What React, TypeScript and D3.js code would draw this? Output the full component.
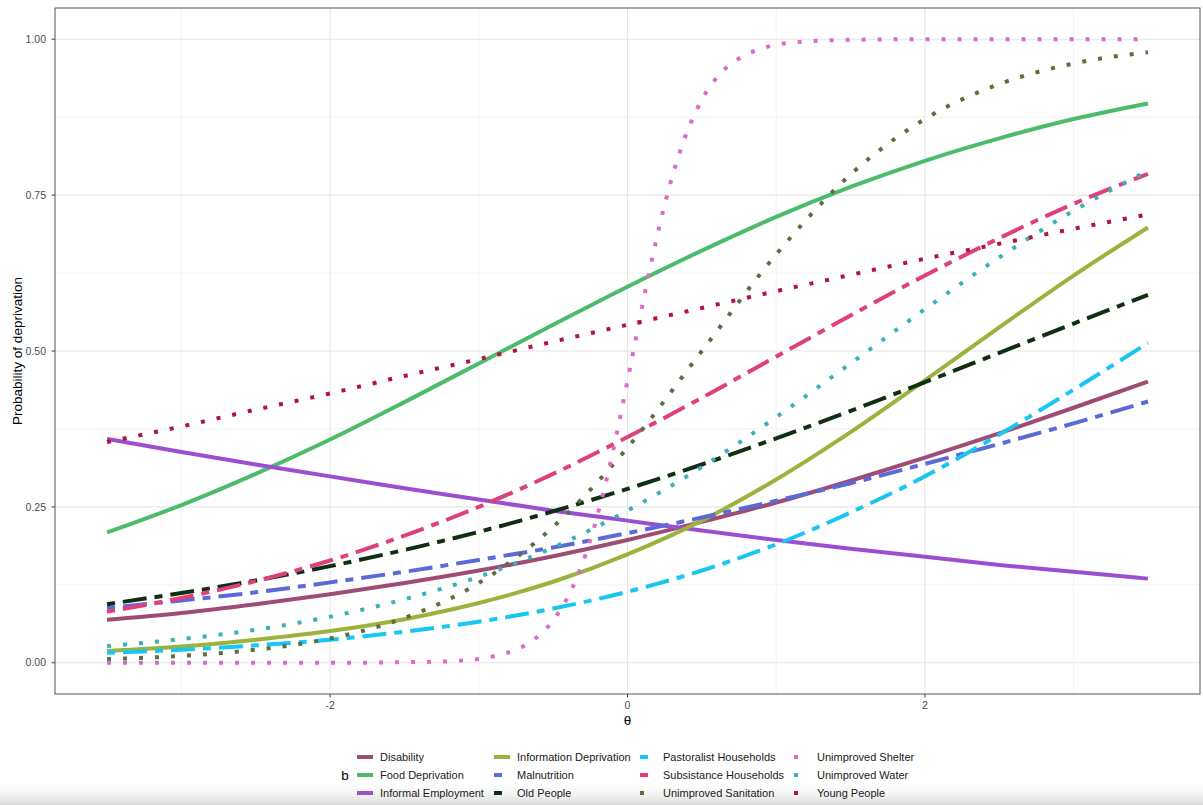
import React from 'react';
import * as d3 from 'd3';

// ---------- data ----------
const thetaCoarse = [-3.5, -3, -2.5, -2, -1.5, -1, -0.5, 0, 0.5, 1, 1.5, 2, 2.5, 3, 3.5];
const thetaShelter = [-3.5, -3, -2.5, -2, -1.5, -1.25, -1, -0.875, -0.75, -0.625, -0.5, -0.375, -0.25, -0.125, 0, 0.125, 0.25, 0.375, 0.5, 0.625, 0.75, 0.875, 1, 1.25, 1.5, 2, 2.5, 3, 3.5];

const disability = [0.069, 0.080, 0.094, 0.110, 0.128, 0.148, 0.171, 0.197, 0.226, 0.257, 0.292, 0.329, 0.368, 0.409, 0.451];
const foodDeprivation = [0.209, 0.253, 0.303, 0.358, 0.418, 0.480, 0.542, 0.603, 0.661, 0.715, 0.763, 0.805, 0.841, 0.872, 0.897];
const informalEmployment = [0.359, 0.338, 0.318, 0.299, 0.280, 0.262, 0.244, 0.228, 0.212, 0.197, 0.183, 0.170, 0.157, 0.146, 0.135];
const informationDeprivation = [0.019, 0.026, 0.037, 0.051, 0.070, 0.096, 0.130, 0.174, 0.228, 0.294, 0.370, 0.453, 0.538, 0.621, 0.698];
const malnutrition = [0.088, 0.100, 0.113, 0.129, 0.146, 0.165, 0.185, 0.208, 0.233, 0.260, 0.288, 0.319, 0.351, 0.384, 0.419];
const oldPeople = [0.094, 0.112, 0.132, 0.155, 0.181, 0.210, 0.243, 0.279, 0.318, 0.360, 0.404, 0.450, 0.497, 0.544, 0.590];
const pastoralistHouseholds = [0.016, 0.021, 0.028, 0.037, 0.050, 0.066, 0.087, 0.114, 0.148, 0.190, 0.241, 0.299, 0.366, 0.438, 0.513];
const subsistenceHouseholds = [0.082, 0.104, 0.131, 0.164, 0.204, 0.250, 0.303, 0.362, 0.425, 0.491, 0.557, 0.621, 0.681, 0.736, 0.784];
const unimprovedSanitation = [0.006, 0.011, 0.021, 0.039, 0.072, 0.128, 0.218, 0.345, 0.500, 0.655, 0.783, 0.872, 0.928, 0.961, 0.979];
const unimprovedShelter = [0, 0, 0, 0, 0.001, 0.002, 0.006, 0.012, 0.021, 0.038, 0.068, 0.118, 0.197, 0.310, 0.452, 0.602, 0.735, 0.835, 0.903, 0.945, 0.969, 0.983, 0.991, 0.997, 0.999, 1, 1, 1, 1];
const unimprovedWater = [0.027, 0.038, 0.053, 0.074, 0.102, 0.138, 0.185, 0.244, 0.314, 0.394, 0.480, 0.567, 0.650, 0.725, 0.789];
const youngPeople = [0.354, 0.379, 0.406, 0.432, 0.460, 0.487, 0.515, 0.542, 0.569, 0.596, 0.622, 0.648, 0.672, 0.696, 0.719];

const seriesNames = [
  'Disability', 'Food Deprivation', 'Informal Employment',
  'Information Deprivation', 'Malnutrition', 'Old People',
  'Pastoralist Households', 'Subsistance Households', 'Unimproved Sanitation',
  'Unimproved Shelter', 'Unimproved Water', 'Young People',
];
const seriesValues = [
  disability, foodDeprivation, informalEmployment,
  informationDeprivation, malnutrition, oldPeople,
  pastoralistHouseholds, subsistenceHouseholds, unimprovedSanitation,
  unimprovedShelter, unimprovedWater, youngPeople,
];
const seriesTheta = [
  thetaCoarse, thetaCoarse, thetaCoarse,
  thetaCoarse, thetaCoarse, thetaCoarse,
  thetaCoarse, thetaCoarse, thetaCoarse,
  thetaShelter, thetaCoarse, thetaCoarse,
];
const seriesColors = [
  '#9E4C76', '#4CBB6C', '#9B4FD0',
  '#9DB23C', '#5A6AD8', '#0F2E12',
  '#19C6F2', '#E0407A', '#5B6E3F',
  '#DA6CC3', '#3AB1B7', '#B4123B',
];
const seriesLineTypes = [
  'solid', 'solid', 'solid',
  'solid', 'twodash', 'twodash',
  'twodash', 'twodash', 'dotted',
  'dotted', 'dotted', 'dotted',
];

const xMajorTicks = [-2, 0, 2];
const xMinorTicks = [-3, -1, 1, 3];
const yMajorTicks = [0, 0.25, 0.5, 0.75, 1];
const yMinorTicks = [0.125, 0.375, 0.625, 0.875];

// ---------- layout ----------
const W = 1203;
const H = 805;
const panel = { left: 55, right: 1200, top: 8, bottom: 694 };
const LW = 4;
const dashFor = (t: string) =>
  t === 'twodash' ? `${2 * LW} ${2 * LW} ${6 * LW} ${2 * LW}` : t === 'dotted' ? `${LW} ${3 * LW}` : undefined;
const FONT = '"Liberation Sans", Arial, Helvetica, sans-serif';

export default function App() {
  const x = d3.scaleLinear().domain([-3.85, 3.85]).range([panel.left, panel.right]);
  const y = d3.scaleLinear().domain([-0.05, 1.05]).range([panel.bottom, panel.top]);

  const line = d3
    .line<[number, number]>()
    .x((d) => x(d[0]))
    .y((d) => y(d[1]))
    .curve(d3.curveMonotoneX);

  const legendColX = [357, 494, 640, 794];
  const legendRowY = [757, 775, 793];
  const keyW = 16;

  return (
    <div style={{ position: 'absolute', left: 0, top: 0 }}>
      <svg width={W} height={H} style={{ display: 'block', fontFamily: FONT }}>
        <defs>
          <linearGradient id="shade" x1="0" y1="0" x2="0" y2="1">
            <stop offset="0" stopColor="#ffffff" stopOpacity="0" />
            <stop offset="1" stopColor="#d9d9d9" stopOpacity="1" />
          </linearGradient>
          <clipPath id="panelClip">
            <rect x={panel.left} y={panel.top} width={panel.right - panel.left} height={panel.bottom - panel.top} />
          </clipPath>
        </defs>
        <rect x={0} y={0} width={W} height={H} fill="#ffffff" />
        <rect x={0} y={780} width={W} height={25} fill="url(#shade)" />

        {/* grid */}
        <g>
          {xMinorTicks.map((t) => (
            <line key={'xm' + t} x1={x(t)} x2={x(t)} y1={panel.top} y2={panel.bottom} stroke="#EBEBEB" strokeWidth={0.6} />
          ))}
          {yMinorTicks.map((t) => (
            <line key={'ym' + t} x1={panel.left} x2={panel.right} y1={y(t)} y2={y(t)} stroke="#EBEBEB" strokeWidth={0.6} />
          ))}
          {xMajorTicks.map((t) => (
            <line key={'xM' + t} x1={x(t)} x2={x(t)} y1={panel.top} y2={panel.bottom} stroke="#E6E6E6" strokeWidth={1.1} />
          ))}
          {yMajorTicks.map((t) => (
            <line key={'yM' + t} x1={panel.left} x2={panel.right} y1={y(t)} y2={y(t)} stroke="#E6E6E6" strokeWidth={1.1} />
          ))}
        </g>

        {/* series */}
        <g clipPath="url(#panelClip)">
          {seriesNames.map((name, i) => {
            const pts = seriesTheta[i].map((t, j) => [t, seriesValues[i][j]] as [number, number]);
            return (
              <path
                key={name}
                d={line(pts) || ''}
                fill="none"
                stroke={seriesColors[i]}
                strokeWidth={LW}
                strokeDasharray={dashFor(seriesLineTypes[i])}
                strokeLinecap="butt"
              />
            );
          })}
        </g>

        {/* panel border */}
        <rect
          x={panel.left}
          y={panel.top}
          width={panel.right - panel.left}
          height={panel.bottom - panel.top}
          fill="none"
          stroke="#555555"
          strokeWidth={1}
        />

        {/* y axis */}
        {yMajorTicks.map((t) => (
          <g key={'yt' + t}>
            <line x1={panel.left - 3.5} x2={panel.left} y1={y(t)} y2={y(t)} stroke="#444" strokeWidth={1} />
            <text x={panel.left - 9} y={y(t)} dy="0.35em" textAnchor="end" fontSize={10.5} fill="#4D4D4D">
              {d3.format('.2f')(t)}
            </text>
          </g>
        ))}
        <text
          transform={`translate(17,${(panel.top + panel.bottom) / 2}) rotate(-90)`}
          textAnchor="middle"
          dy="0.35em"
          fontSize={13.5}
          fill="#000"
        >
          Probability of deprivation
        </text>

        {/* x axis */}
        {xMajorTicks.map((t) => (
          <g key={'xt' + t}>
            <line x1={x(t)} x2={x(t)} y1={panel.bottom} y2={panel.bottom + 3.5} stroke="#444" strokeWidth={1} />
            <text x={x(t)} y={panel.bottom + 15} textAnchor="middle" fontSize={10.5} fill="#4D4D4D">
              {t < 0 ? '-' + Math.abs(t) : String(t)}
            </text>
          </g>
        ))}
        <text x={(panel.left + panel.right) / 2} y={725} textAnchor="middle" fontSize={13.5} fill="#000">
          θ
        </text>

        {/* legend */}
        <text x={345} y={legendRowY[1]} dy="0.35em" textAnchor="middle" fontSize={13.5} fill="#000">
          b
        </text>
        {seriesNames.map((name, i) => {
          const col = Math.floor(i / 3);
          const row = i % 3;
          const lx = legendColX[col];
          const ly = legendRowY[row];
          return (
            <g key={'lg' + name}>
              <line
                x1={lx}
                x2={lx + keyW}
                y1={ly}
                y2={ly}
                stroke={seriesColors[i]}
                strokeWidth={LW}
                strokeDasharray={dashFor(seriesLineTypes[i])}
              />
              <text x={lx + keyW + 7} y={ly} dy="0.35em" fontSize={11} fill="#1A1A1A">
                {name}
              </text>
            </g>
          );
        })}
      </svg>
    </div>
  );
}
